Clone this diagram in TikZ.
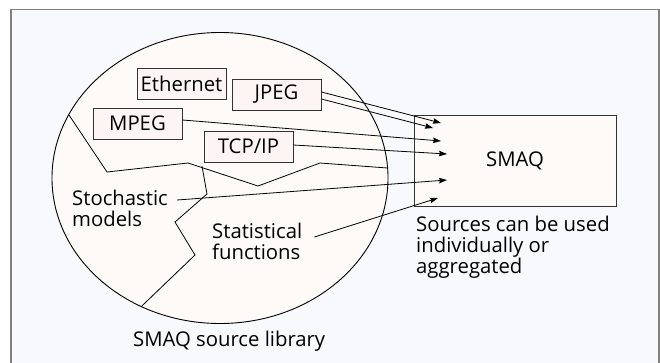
\documentclass[tikz,border=0pt]{standalone}
\usepackage{fontspec}
\setmainfont{Open Sans}
\usetikzlibrary{arrows.meta}
\definecolor{bgcol}{HTML}{F7F9FC}
\definecolor{framecol}{HTML}{7F7F7F}
\definecolor{ellcol}{HTML}{FDFAF8}
\definecolor{boxcol}{HTML}{FDF5F3}
\tikzset{
  srcbox/.style={draw=black!80, fill=boxcol, line width=0.9pt, minimum width=89pt, minimum height=31pt, inner sep=0pt, font=\fontsize{20.3}{21}\selectfont},
  smaqbox/.style={draw=black!80, fill=ellcol, line width=0.9pt, minimum width=202pt, minimum height=91pt, inner sep=0pt, font=\fontsize{20.3}{21}\selectfont},
  lbl/.style={inner sep=0pt, align=left, anchor=north west, font=\fontsize{20.3}{20.8}\selectfont},
  arr/.style={line width=0.8pt, -{Stealth[length=8pt,width=5.5pt,inset=1pt]}},
  part/.style={line width=0.8pt, line join=miter}
}
\begin{document}
\begin{tikzpicture}[x=1pt,y=-1pt]
\useasboundingbox (0,0) rectangle (660,362);
\draw[framecol, fill=bgcol, line width=1.2pt] (11,9.5) rectangle (659,380);
\draw[line width=0.9pt, fill=ellcol] (220,178) ellipse [x radius=168pt, y radius=145.5pt];
% partition lines
\draw[part] (69,115) -- (107,172) -- (188,163) -- (258,186) -- (320,163) -- (387.5,168);
\draw[part] (202,166) -- (207,194) -- (175,222) -- (195,255) -- (141.2,306.6);
% source boxes
\node[srcbox] (eth) at (181.5,83.5) {Ethernet};
\node[srcbox] (jpeg) at (276.5,94.5) {JPEG};
\node[srcbox] (mpeg) at (137.5,123.5) {MPEG};
\node[srcbox] (tcp) at (248.5,146.5) {TCP/IP};
\node[smaqbox] (smaq) at (515,160.5) {SMAQ};
% text labels
\node[lbl] (stoch) at (72,190) {Stochastic\\models};
\node[lbl] (stat) at (212,223) {Statistical\\functions};
\node[lbl] (lib) at (133,331) {SMAQ source library};
\node[lbl] (srcs) at (416,216) {Sources can be used\\individually or\\aggregated};
% arrow targets
\coordinate (t1) at (441,123);
\coordinate (t2) at (433,128);
\coordinate (t3) at (441,141);
\coordinate (t4) at (447,154);
\coordinate (t5) at (447,180);
\coordinate (t6) at (438,198);
\draw[arr] ([yshift=2.5pt]jpeg.east) -- (t1);
\draw[arr] ([yshift=-4.5pt]jpeg.east) -- (t2);
\draw[arr] ([yshift=3.5pt]mpeg.east) -- (t3);
\draw[arr] ([yshift=1.5pt]tcp.east) -- (t4);
\draw[arr] ([xshift=9pt,yshift=-10pt]stoch.north east) -- (t5);
\draw[arr] ([xshift=12pt,yshift=-14pt]stat.north east) -- (t6);
\end{tikzpicture}
\end{document}
